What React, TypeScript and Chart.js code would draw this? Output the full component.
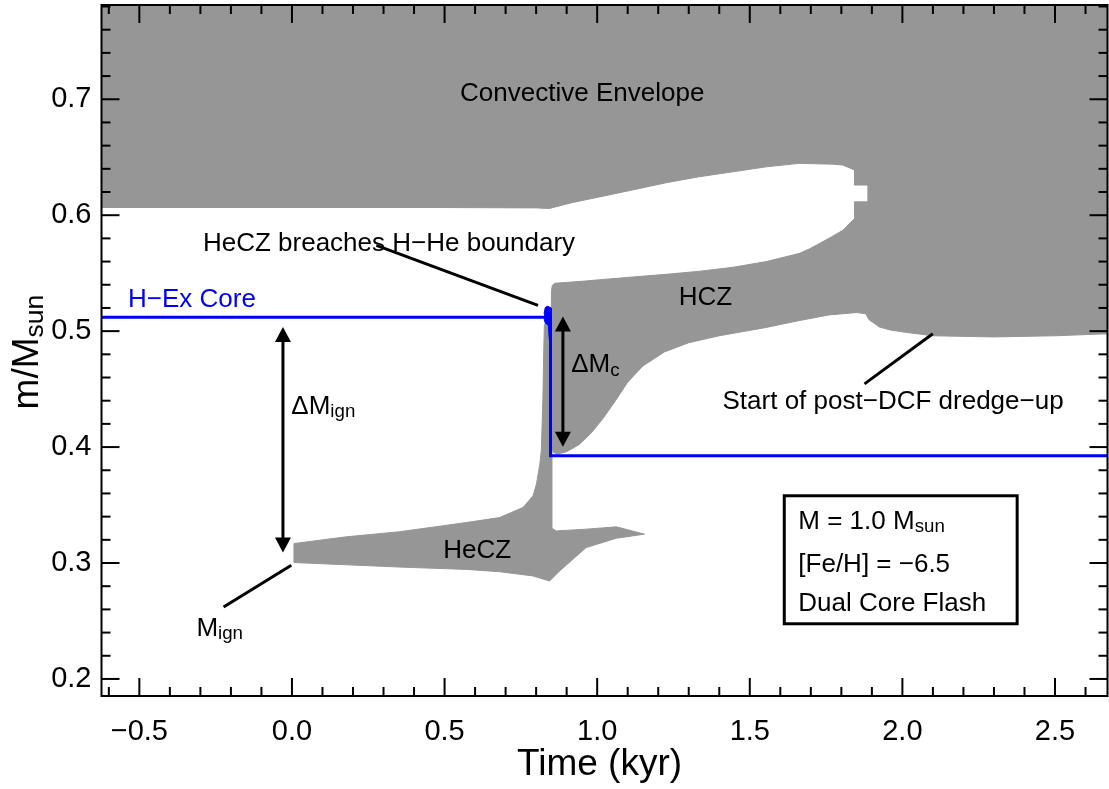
import React, { useEffect, useRef } from 'react';
import { Chart, registerables } from 'chart.js';

Chart.register(...registerables);

const FONT = '"Liberation Sans", Arial, Helvetica, sans-serif';
const GRAY = '#969696';
const BLUE = '#0000ff';

// Axis ranges: time (kyr) and mass coordinate (m/Msun)
const X_MIN = -0.624;
const X_MAX = 2.672;
const Y_MIN = 0.1853;
const Y_MAX = 0.7813;

const X_TICKS = [-0.5, 0.0, 0.5, 1.0, 1.5, 2.0, 2.5];
const X_MINOR_TICKS = [-0.6, -0.4, -0.3, -0.2, -0.1, 0.1, 0.2, 0.3, 0.4, 0.6, 0.7, 0.8, 0.9, 1.1, 1.2, 1.3, 1.4, 1.6, 1.7, 1.8, 1.9, 2.1, 2.2, 2.3, 2.4, 2.6];
const Y_TICKS = [0.2, 0.3, 0.4, 0.5, 0.6, 0.7];
const Y_MINOR_TICKS = [0.22, 0.24, 0.26, 0.28, 0.32, 0.34, 0.36, 0.38, 0.42, 0.44, 0.46, 0.48, 0.52, 0.54, 0.56, 0.58, 0.62, 0.64, 0.66, 0.68, 0.72, 0.74, 0.76, 0.78];

// Convective envelope: surface (beyond top of plot) and its lower boundary
const ENVELOPE_TOP = [[-0.70, 1.0], [2.70, 1.0]];
const ENVELOPE_BASE = [
  [-0.70, 0.6067], [0.40, 0.6067], [0.80, 0.6063], [0.843, 0.6058], [0.92, 0.6110], [1.008, 0.6158],
  [1.12, 0.6220], [1.226, 0.6280], [1.33, 0.6330], [1.444, 0.6374], [1.554, 0.6417], [1.662, 0.6447],
  [1.772, 0.6440], [1.805, 0.6432], [1.843, 0.6390], [1.843, 0.6260], [1.887, 0.6260],
];
// Hydrogen convective zone (HCZ) upper and lower boundaries
const HCZ_TOP = [
  [0.850, 0.5340], [0.853, 0.5395], [0.862, 0.5413], [0.95, 0.5430], [1.116, 0.5467], [1.226, 0.5490],
  [1.33, 0.5515], [1.444, 0.5550], [1.554, 0.5600], [1.662, 0.5670], [1.696, 0.5710], [1.728, 0.5755],
  [1.767, 0.5812], [1.805, 0.5870], [1.843, 0.5970], [1.843, 0.6115], [1.887, 0.6115],
];
const HCZ_BOTTOM = [
  [0.850, 0.4000], [0.856, 0.3955], [0.870, 0.3940], [0.900, 0.3960], [0.940, 0.4020], [0.980, 0.4120],
  [1.020, 0.4250], [1.060, 0.4400], [1.100, 0.4560], [1.150, 0.4700], [1.220, 0.4820], [1.300, 0.4900],
  [1.400, 0.4960], [1.550, 0.5030], [1.660, 0.5090], [1.760, 0.5140], [1.850, 0.5160], [1.880, 0.5150],
  [1.890, 0.5100], [1.925, 0.5035], [1.960, 0.5010], [2.010, 0.4990], [2.100, 0.4960], [2.300, 0.4950],
  [2.500, 0.4960], [2.700, 0.4980],
];
// Helium convective zone (HeCZ)
const HECZ_TOP = [
  [0.0066, 0.3004], [0.0066, 0.3168], [0.178, 0.3226], [0.353, 0.3270], [0.571, 0.3349], [0.680, 0.3392],
  [0.757, 0.3479], [0.790, 0.3580], [0.801, 0.3680], [0.812, 0.3850], [0.817, 0.3970], [0.822, 0.4400],
  [0.825, 0.4830], [0.827, 0.5050], [0.835, 0.5100], [0.851, 0.5100], [0.851, 0.3300],
];
const HECZ_TAIL = [
  [0.866, 0.3277], [0.964, 0.3292], [1.063, 0.3312], [1.155, 0.3249], [1.063, 0.3214], [0.964, 0.3133],
  [0.877, 0.2932], [0.844, 0.2845],
];
const HECZ_BOTTOM = [
  [0.789, 0.2889], [0.680, 0.2925], [0.571, 0.2945], [0.353, 0.2965], [0.178, 0.2985], [0.0066, 0.3004],
];
// Hydrogen-exhausted core mass
const H_EX_CORE = [[-0.70, 0.5120], [0.847, 0.5120], [0.847, 0.3926], [2.70, 0.3926]];
const H_EX_BLOB = [
  [0.826, 0.5150], [0.830, 0.5205], [0.838, 0.5215], [0.849, 0.5200], [0.850, 0.5080], [0.849, 0.4930],
  [0.843, 0.4930], [0.840, 0.5050], [0.830, 0.5070], [0.826, 0.5100],
];

// Annotations (data coordinates)
const DOUBLE_ARROWS = [
  { x: -0.0295, y1: 0.5035, y2: 0.3090 },
  { x: 0.8877, y1: 0.5127, y2: 0.4003 },
];
const POINTERS = [
  [0.2765, 0.5740, 0.806, 0.5222],
  [-0.002, 0.2980, -0.224, 0.2620],
  [2.0997, 0.4977, 1.8758, 0.4545],
];
type Part = [string, boolean];
const LABELS: { parts: Part[]; x: number; y: number; align: string; color: string }[] = [
  { parts: [['Convective Envelope', false]], x: 0.951, y: 0.7063, align: 'center', color: '#000' },
  { parts: [['HeCZ breaches H\u2212He boundary', false]], x: -0.2916, y: 0.5769, align: 'left', color: '#000' },
  { parts: [['H\u2212Ex Core', false]], x: -0.5372, y: 0.5291, align: 'left', color: BLUE },
  { parts: [['\u0394M', false], ['ign', true]], x: -0.002, y: 0.4366, align: 'left', color: '#000' },
  { parts: [['\u0394M', false], ['c', true]], x: 0.915, y: 0.4725, align: 'left', color: '#000' },
  { parts: [['HCZ', false]], x: 1.355, y: 0.5309, align: 'center', color: '#000' },
  { parts: [['HeCZ', false]], x: 0.6066, y: 0.3124, align: 'center', color: '#000' },
  { parts: [['M', false], ['ign', true]], x: -0.3131, y: 0.2452, align: 'left', color: '#000' },
  { parts: [['Start of post\u2212DCF dredge\u2212up', false]], x: 1.4107, y: 0.4410, align: 'left', color: '#000' },
];
const LEGEND_BOX = { x1: 1.613, x2: 2.376, y1: 0.3580, y2: 0.2476 };
const LEGEND_LINES: { parts: Part[]; x: number; y: number }[] = [
  { parts: [['M = 1.0 M', false], ['sun', true]], x: 1.659, y: 0.3374 },
  { parts: [['[Fe/H] = \u22126.5', false]], x: 1.659, y: 0.3003 },
  { parts: [['Dual Core Flash', false]], x: 1.659, y: 0.2665 },
];

const toPts = (arr: number[][]) => arr.map(([x, y]) => ({ x, y }));

const ENVELOPE_HCZ_POLY = [
  ...ENVELOPE_TOP,
  ...HCZ_BOTTOM.slice().reverse(),
  ...HCZ_TOP,
  ...ENVELOPE_BASE.slice().reverse(),
  ENVELOPE_TOP[0],
];
const HECZ_POLY = [...HECZ_TOP, ...HECZ_TAIL, ...HECZ_BOTTOM];

function drawRich(ctx: CanvasRenderingContext2D, parts: Part[], x: number, capY: number, size: number, align: string, color: string) {
  const subSize = size * 0.72;
  const widths = parts.map(([t, sub]) => {
    ctx.font = `${sub ? subSize : size}px ${FONT}`;
    return ctx.measureText(t).width;
  });
  const total = widths.reduce((a, b) => a + b, 0);
  let cx = align === 'center' ? x - total / 2 : align === 'right' ? x - total : x;
  const base = capY + size * 0.358;
  ctx.fillStyle = color;
  ctx.textAlign = 'left';
  ctx.textBaseline = 'alphabetic';
  parts.forEach(([t, sub], i) => {
    ctx.font = `${sub ? subSize : size}px ${FONT}`;
    ctx.fillText(t, cx, sub ? base + size * 0.13 : base);
    cx += widths[i];
  });
}

const overlayPlugin = {
  id: 'overlay',
  afterDatasetsDraw(chart: any) {
    const { ctx, chartArea: a, scales } = chart;
    const xs = scales.x;
    const ys = scales.y;
    const px = (v: number) => xs.getPixelForValue(v);
    const py = (v: number) => ys.getPixelForValue(v);
    ctx.save();
    ctx.strokeStyle = '#000';
    ctx.lineCap = 'butt';

    // inward ticks on all sides
    ctx.lineWidth = 2;
    const seg = (x1: number, y1: number, x2: number, y2: number) => {
      ctx.beginPath();
      ctx.moveTo(x1, y1);
      ctx.lineTo(x2, y2);
      ctx.stroke();
    };
    X_TICKS.forEach((v) => { const p = px(v); seg(p, a.bottom, p, a.bottom - 18); seg(p, a.top, p, a.top + 18); });
    X_MINOR_TICKS.forEach((v) => { const p = px(v); seg(p, a.bottom, p, a.bottom - 9); seg(p, a.top, p, a.top + 9); });
    Y_TICKS.forEach((v) => { const p = py(v); seg(a.left, p, a.left + 18, p); seg(a.right, p, a.right - 18, p); });
    Y_MINOR_TICKS.forEach((v) => { const p = py(v); seg(a.left, p, a.left + 9, p); seg(a.right, p, a.right - 9, p); });
    ctx.strokeRect(a.left, a.top, a.right - a.left, a.bottom - a.top);

    // pointer lines
    ctx.lineWidth = 3;
    POINTERS.forEach(([x1, y1, x2, y2]) => seg(px(x1), py(y1), px(x2), py(y2)));

    // double arrows
    const head = 15;
    const hw = 8;
    DOUBLE_ARROWS.forEach(({ x, y1, y2 }) => {
      const X = px(x);
      const top = py(y1);
      const bot = py(y2);
      ctx.lineWidth = 3;
      seg(X, top + head - 2, X, bot - head + 2);
      ctx.fillStyle = '#000';
      ctx.beginPath();
      ctx.moveTo(X, top);
      ctx.lineTo(X - hw, top + head);
      ctx.lineTo(X + hw, top + head);
      ctx.closePath();
      ctx.fill();
      ctx.beginPath();
      ctx.moveTo(X, bot);
      ctx.lineTo(X - hw, bot - head);
      ctx.lineTo(X + hw, bot - head);
      ctx.closePath();
      ctx.fill();
    });

    // text labels
    LABELS.forEach((l) => drawRich(ctx, l.parts, px(l.x), py(l.y), 26, l.align, l.color));

    // legend box
    ctx.lineWidth = 3;
    ctx.strokeStyle = '#000';
    const bx = px(LEGEND_BOX.x1);
    const by = py(LEGEND_BOX.y1);
    ctx.strokeRect(bx, by, px(LEGEND_BOX.x2) - bx, py(LEGEND_BOX.y2) - by);
    LEGEND_LINES.forEach((l) => drawRich(ctx, l.parts, px(l.x), py(l.y), 26, 'left', '#000'));

    // axis titles
    drawRich(ctx, [['Time (kyr)', false]], (a.left + a.right) / 2 - 5, 762, 37, 'center', '#000');
    ctx.save();
    ctx.translate(38, 352);
    ctx.rotate(-Math.PI / 2);
    drawRich(ctx, [['m/M', false], ['sun', true]], 0, -37 * 0.358, 37, 'center', '#000');
    ctx.restore();

    ctx.restore();
  },
};

const fmt = (v: number) => (v < 0 ? '\u2212' : '') + Math.abs(v).toFixed(1);

export default function App() {
  const ref = useRef<HTMLCanvasElement>(null);
  useEffect(() => {
    if (!ref.current) return;
    const chart = new Chart(ref.current, {
      type: 'scatter',
      data: {
        datasets: [
          { label: 'H-Ex Core', data: toPts(H_EX_CORE), showLine: true, borderColor: BLUE, borderWidth: 3, pointRadius: 0, fill: false, order: 0 } as any,
          { label: 'H-Ex blob', data: toPts(H_EX_BLOB), showLine: true, borderColor: BLUE, backgroundColor: BLUE, borderWidth: 1, pointRadius: 0, fill: 'shape', order: 1 } as any,
          { label: 'HeCZ', data: toPts(HECZ_POLY), showLine: true, borderColor: GRAY, backgroundColor: GRAY, borderWidth: 1, pointRadius: 0, fill: 'shape', order: 4 } as any,
          { label: 'Envelope + HCZ', data: toPts(ENVELOPE_HCZ_POLY), showLine: true, borderColor: GRAY, backgroundColor: GRAY, borderWidth: 1, pointRadius: 0, fill: 'shape', order: 5 } as any,
        ],
      },
      options: {
        animation: false,
        responsive: false,
        devicePixelRatio: 1,
        events: [],
        layout: { padding: { left: 0, top: 5, right: 1.5, bottom: 0 } },
        plugins: { legend: { display: false }, tooltip: { enabled: false }, title: { display: false } },
        elements: { line: { tension: 0 } },
        scales: {
          x: {
            type: 'linear',
            min: X_MIN,
            max: X_MAX,
            afterBuildTicks: (s: any) => { s.ticks = X_TICKS.map((value) => ({ value })); },
            afterFit: (s: any) => { s.height = 93; s.paddingLeft = 0; s.paddingRight = 0; },
            grid: { display: false, drawTicks: false },
            border: { display: false },
            ticks: { color: '#000', font: { family: FONT, size: 29 }, padding: 19, maxRotation: 0, autoSkip: false, callback: (v: any) => fmt(Number(v)) },
          },
          y: {
            type: 'linear',
            min: Y_MIN,
            max: Y_MAX,
            afterBuildTicks: (s: any) => { s.ticks = Y_TICKS.map((value) => ({ value })); },
            afterFit: (s: any) => { s.width = 101.5; s.paddingTop = 0; s.paddingBottom = 0; },
            grid: { display: false, drawTicks: false },
            border: { display: false },
            ticks: { color: '#000', font: { family: FONT, size: 29 }, padding: 10, autoSkip: false, callback: (v: any) => fmt(Number(v)) },
          },
        },
      } as any,
      plugins: [overlayPlugin],
    });
    return () => chart.destroy();
  }, []);
  return (
    <div style={{ position: 'fixed', left: 0, top: 0, width: 1109, height: 789, background: '#fff' }}>
      <canvas ref={ref} width={1109} height={789} style={{ width: 1109, height: 789, display: 'block' }} />
    </div>
  );
}
